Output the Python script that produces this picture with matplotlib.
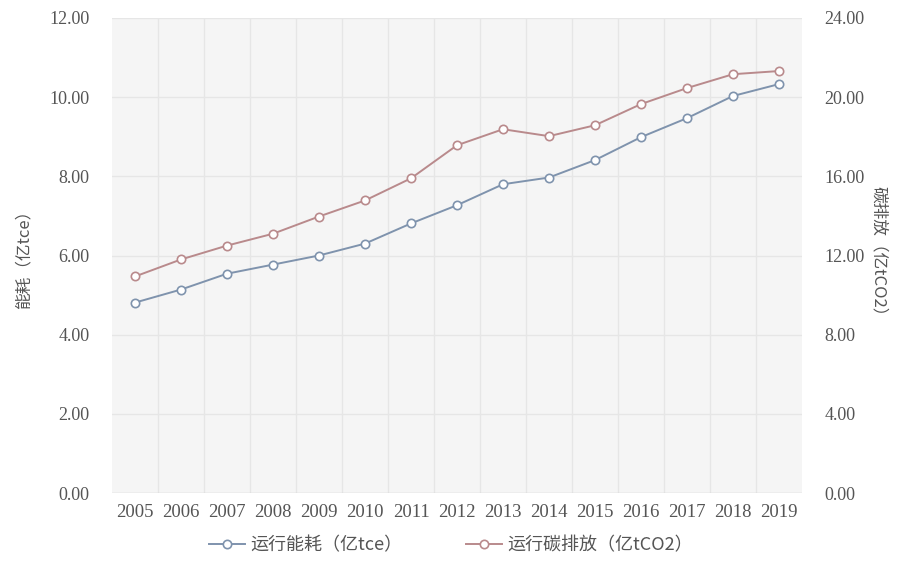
import matplotlib
matplotlib.use("Agg")
import matplotlib.pyplot as plt
import numpy as np

years = ["2005", "2006", "2007", "2008", "2009", "2010", "2011", "2012",
         "2013", "2014", "2015", "2016", "2017", "2018", "2019"]
energy = [4.81, 5.14, 5.54, 5.77, 6.00, 6.30, 6.81, 7.27, 7.80, 7.97,
          8.41, 8.99, 9.47, 10.03, 10.33]
carbon = [10.94, 11.80, 12.50, 13.10, 13.97, 14.78, 15.90, 17.57, 18.38,
          18.03, 18.58, 19.65, 20.46, 21.16, 21.32]
left_ticks = [0, 2, 4, 6, 8, 10, 12]
right_ticks = [0, 4, 8, 12, 16, 20, 24]
label_energy = "运行能耗（亿tce）"
label_carbon = "运行碳排放（亿tCO2）"
ylabel_left = "能耗（亿tce）"
ylabel_right = "碳排放（亿tCO2）"

plt.rcParams['font.family'] = ['Noto Sans CJK SC', 'DejaVu Sans']
serif = ['Liberation Serif', 'DejaVu Serif']
tc = '#555555'

fig = plt.figure(figsize=(9.02, 5.68), dpi=100)
ax = fig.add_axes([112/902, 75/568, 690/902, 475/568])
ax.set_facecolor('#f5f5f5')
ax2 = ax.twinx()

x = np.arange(len(years))
c_blue = '#7f93ad'
c_red = '#b98a8c'
l1, = ax.plot(x, energy, color=c_blue, lw=1.4, marker='o', ms=6,
              mfc='white', mec=c_blue, mew=1.2, label=label_energy, zorder=3)
l2, = ax2.plot(x, carbon, color=c_red, lw=1.4, marker='o', ms=6,
               mfc='white', mec=c_red, mew=1.2, label=label_carbon, zorder=3)

ax.set_xlim(-0.5, len(years) - 0.5)
ax.set_ylim(0, 12)
ax2.set_ylim(0, 24)
ax.set_yticks(left_ticks)
ax.set_yticklabels([f"{v:.2f}" for v in left_ticks], fontfamily=serif, fontsize=13, color=tc)
ax2.set_yticks(right_ticks)
ax2.set_yticklabels([f"{v:.2f}" for v in right_ticks], fontfamily=serif, fontsize=13, color=tc)
ax.set_xticks(x)
ax.set_xticklabels(years, fontfamily=serif, fontsize=13.5, color=tc)

# grid
for v in left_ticks[1:]:
    ax.axhline(v, color='#e6e6e6', lw=1, zorder=0)
for b in np.arange(0.5, len(years) - 0.5, 1):
    ax.axvline(b, color='#e6e6e6', lw=1, zorder=0)
ax.axhline(0, color='#d0d0d0', lw=1, zorder=1)

for a in (ax, ax2):
    for s in a.spines.values():
        s.set_visible(False)
    a.tick_params(length=0)
ax.tick_params(axis='y', pad=16)
ax2.tick_params(axis='y', pad=16)
ax.tick_params(axis='x', pad=8)

ax.set_ylabel(ylabel_left, fontsize=12, color=tc, labelpad=12)
ax2.set_ylabel(ylabel_right, fontsize=12, color=tc, rotation=270, labelpad=16)

fig.legend(handles=[l1, l2], loc='lower center', bbox_to_anchor=(0.5, -0.005),
           ncol=2, frameon=False, fontsize=13, labelcolor=tc,
           handlelength=2.0, columnspacing=3.5, handletextpad=0.3)

fig.savefig("out.png", dpi=100)
